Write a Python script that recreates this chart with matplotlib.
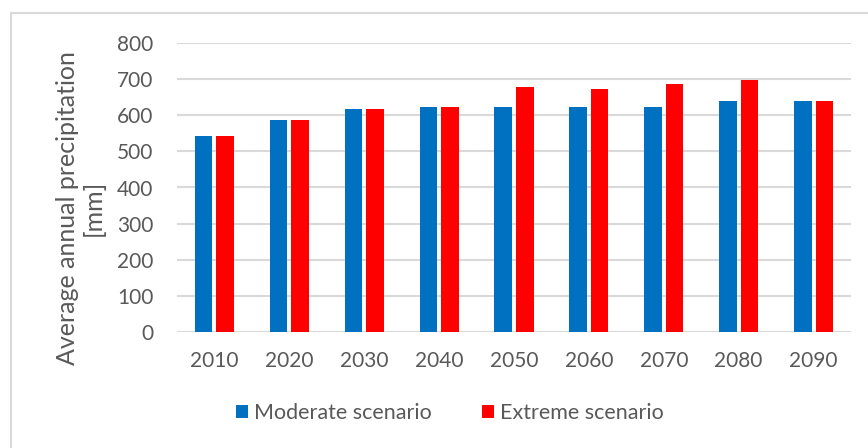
import numpy as np
import matplotlib.pyplot as plt
from matplotlib.patches import Rectangle

# decades and precipitation values [mm]
years = ['2010', '2020', '2030', '2040', '2050', '2060', '2070', '2080', '2090']
moderate = [543, 587, 618, 622, 622, 622, 622, 639, 639]
extreme = [543, 587, 618, 622, 678, 672, 686, 697, 639]

plt.rcParams['font.family'] = ['Lato', 'DejaVu Sans']
txt = '#595959'
fig = plt.figure(figsize=(8.68, 4.48), dpi=100)
ax = fig.add_axes([177/868, 1-332/448, (851-177)/868, (332-43)/448])

x = np.arange(len(years)) + 0.5
w = 0.234
gap = 0.053
ax.bar(x - (w + gap)/2, moderate, w, color='#0070C0', label='Moderate scenario', zorder=3)
ax.bar(x + (w + gap)/2, extreme, w, color='#FF0000', label='Extreme scenario', zorder=3)

ax.set_xlim(0, len(years))
ax.set_ylim(0, 800)
ax.set_yticks(range(0, 801, 100))
ax.set_xticks(x)
ax.set_xticklabels(years)
ax.grid(axis='y', color='#d9d9d9', lw=1.5, zorder=0)
for s in ax.spines.values():
    s.set_visible(False)
ax.tick_params(length=0, labelsize=15, colors=txt)
ax.tick_params(axis='y', pad=17)
ax.tick_params(axis='x', pad=14)
ax.set_ylabel('Average annual precipitation\n[mm]', fontsize=18, color=txt,
              linespacing=1.15)
ax.yaxis.set_label_coords(-0.107, 0.43)

fig.legend(loc='center', bbox_to_anchor=(450/868, 1-413/448), ncol=2, frameon=False,
           fontsize=15.5, labelcolor=txt, handlelength=0.55, handleheight=0.55,
           handletextpad=0.3, columnspacing=2.3)

fig.patches.append(Rectangle((11/868, -0.05), 1, 1-13/448+0.05, transform=fig.transFigure,
                             fill=False, edgecolor='#d9d9d9', lw=1.5))

fig.savefig('out.png', dpi=100)
